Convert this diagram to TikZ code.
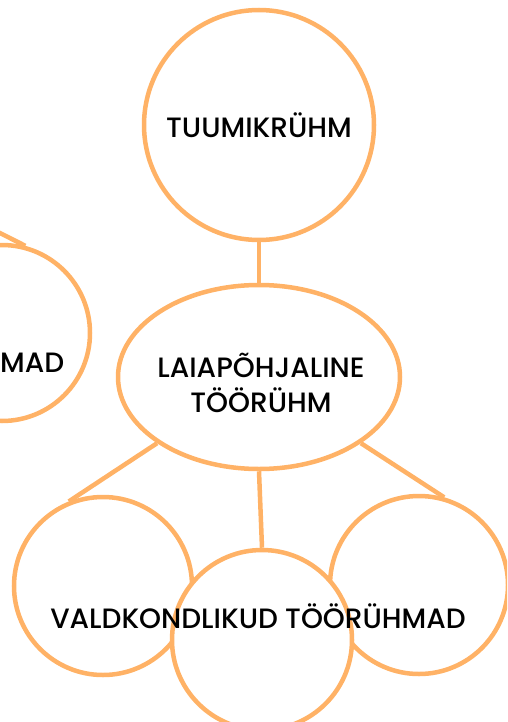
\documentclass[tikz,border=0pt]{standalone}
\usepackage{fontspec}
\setmainfont{Poppins}[BoldFont={Poppins Medium}]
\usepackage{tikz}
\usetikzlibrary{shapes.geometric}

\definecolor{peach}{RGB}{255,178,102}

\begin{document}
\begin{tikzpicture}[x=1pt,y=-1pt,
    bubble/.style={circle,draw=peach,line width=4.5pt,fill=white,inner sep=0pt},
    link/.style={draw=peach,line width=4.5pt},
    label/.style={font=\fontsize{28}{35}\selectfont\bfseries,align=center,text=black}]
    \useasboundingbox (0,0) rectangle (507,722);
    \clip (0,0) rectangle (507,722);
    %
    \node[bubble,minimum size=230pt] (core) at (259,125) {};
    \node[ellipse,draw=peach,line width=4.5pt,fill=white,
      minimum width=282pt,minimum height=184pt] (wide) at (259,377) {};
    \node[bubble,minimum size=176pt] (side) at (2,333) {};
    \coordinate (sideend) at (-30,218);
    %
    \node[bubble,minimum size=178pt] (left) at (103,586) {};
    \node[bubble,minimum size=178pt] (right) at (419,585) {};
    \node[bubble,minimum size=180pt] (mid) at (262,640) {};
    %
    \draw[link] (core.south) -- (wide.north);
    \draw[link] (wide.213) -- (left.112);
    \draw[link] (wide.south) -- (mid.north);
    \draw[link] (wide.327) -- (right.74);
    \draw[link] (sideend) -- (side.75);
    %
    \node[label] (corelabel) at (core) {TUUMIKRÜHM};
    \node[label] (widelabel) at (261,383) {LAIAPÕHJALINE\\TÖÖRÜHM};
    \node[label,anchor=west,inner sep=0pt] (sidelabel) at (0,363) {MAD};
    \node[label] (midlabel) at (258,616) {VALDKONDLIKUD TÖÖRÜHMAD};
\end{tikzpicture}
\end{document}
